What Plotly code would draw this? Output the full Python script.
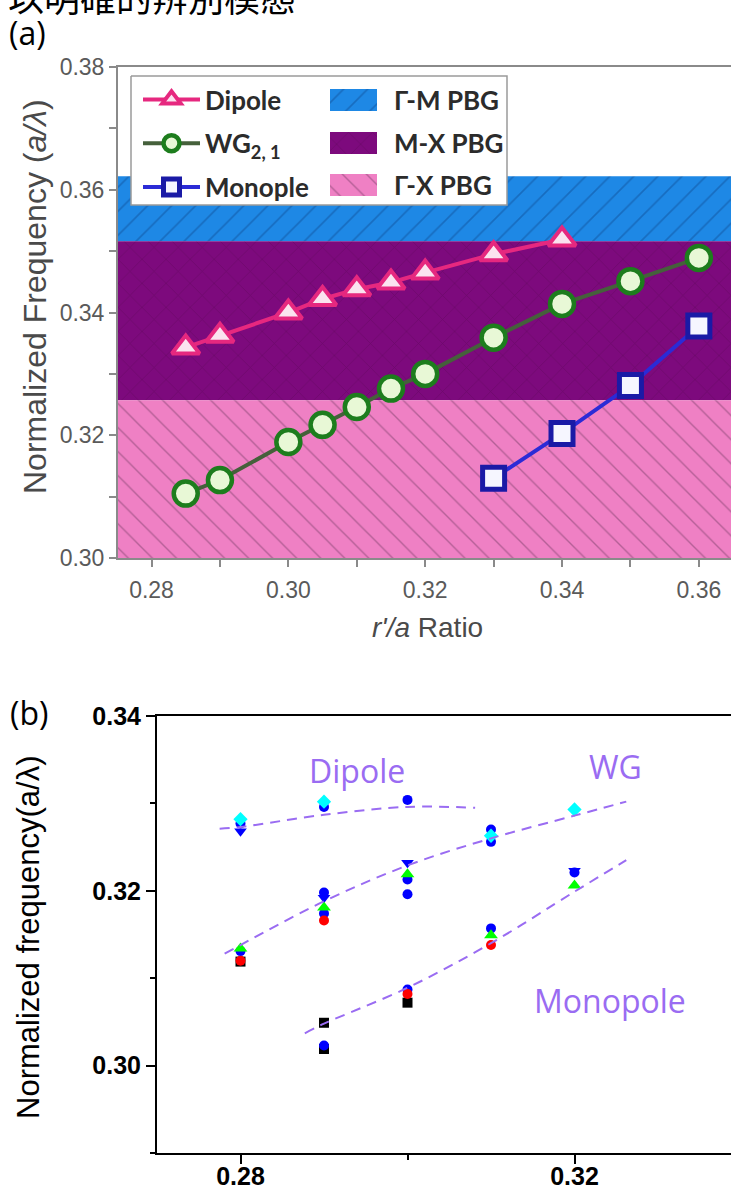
import plotly.graph_objects as go

W, H = 731, 1189

# ---------------- panel (a): simulated modes vs r'/a ----------------
ratio_dipole = [0.285, 0.29, 0.30, 0.305, 0.31, 0.315, 0.32, 0.33, 0.34]
freq_dipole = [0.3343, 0.3362, 0.3400, 0.3422, 0.3438, 0.3449, 0.3465, 0.3495, 0.3519]

ratio_wg = [0.285, 0.29, 0.30, 0.305, 0.31, 0.315, 0.32, 0.33, 0.34, 0.35, 0.36]
freq_wg = [0.3105, 0.3127, 0.3189, 0.3217, 0.3246, 0.3276, 0.3300, 0.3359, 0.3414, 0.3451, 0.3489]

ratio_mono = [0.33, 0.34, 0.35, 0.36]
freq_mono = [0.3130, 0.3203, 0.3281, 0.3378]

band_names = ["Γ-M PBG", "M-X PBG", "Γ-X PBG"]
band_low = [0.3516, 0.3257, 0.2995]
band_high = [0.3622, 0.3516, 0.3257]

a_xticks = [0.28, 0.30, 0.32, 0.34, 0.36]
a_yticks = [0.30, 0.32, 0.34, 0.36, 0.38]

# ---------------- panel (b): measured modes ----------------
b_blue_circle_x = [0.28, 0.28, 0.29, 0.29, 0.29, 0.29, 0.30, 0.30, 0.30, 0.30, 0.31, 0.31, 0.31, 0.32]
b_blue_circle_y = [0.3277, 0.3131, 0.3296, 0.3198, 0.3174, 0.3023, 0.3304, 0.3213, 0.3196, 0.3087,
                   0.3270, 0.3256, 0.3157, 0.3221]

b_blue_tridown_x = [0.28, 0.29, 0.30, 0.32]
b_blue_tridown_y = [0.3268, 0.3192, 0.3232, 0.3223]

b_green_tri_x = [0.28, 0.29, 0.30, 0.31, 0.32]
b_green_tri_y = [0.3134, 0.3181, 0.3219, 0.3149, 0.3206]

b_red_circle_x = [0.28, 0.29, 0.30, 0.31]
b_red_circle_y = [0.3120, 0.3166, 0.3082, 0.3138]

b_cyan_diamond_x = [0.28, 0.29, 0.31, 0.32]
b_cyan_diamond_y = [0.3282, 0.3302, 0.3263, 0.3293]

b_black_square_x = [0.28, 0.29, 0.29, 0.30]
b_black_square_y = [0.3119, 0.3049, 0.3019, 0.3072]

# hand-drawn guide curves
guide_dipole_x = [0.2775, 0.28, 0.29, 0.30, 0.3081]
guide_dipole_y = [0.3271, 0.3273, 0.3287, 0.3296, 0.3295]
guide_wg_x = [0.2781, 0.29, 0.30, 0.31, 0.32, 0.3262]
guide_wg_y = [0.3128, 0.3188, 0.3229, 0.3260, 0.3286, 0.3302]
guide_mono_x = [0.2877, 0.29, 0.30, 0.31, 0.32, 0.3262]
guide_mono_y = [0.3037, 0.3048, 0.3089, 0.3140, 0.3199, 0.3235]

b_xticks = [0.28, 0.32]
b_yticks = [0.30, 0.32, 0.34]

labels_b = ["Dipole", "WG", "Monopole"]
labels_b_x = [0.2939, 0.3249, 0.3243]
labels_b_y = [0.3338, 0.3342, 0.3074]


def px(x):
    return x / W


def py(y):
    return 1 - y / H


fig = go.Figure()

# photonic band gap regions
a_xlo, a_xhi = 0.2751, 0.3647
band_style = [
    dict(fillcolor="#1e88e5", fillpattern=dict(shape="/", bgcolor="#1e88e5", fgcolor="#0f4f9a",
                                               size=17, solidity=0.1)),
    dict(fillcolor="#7d0a7d", fillpattern=dict(shape="x", bgcolor="#7d0a7d", fgcolor="#5a0857",
                                               size=17, solidity=0.08)),
    dict(fillcolor="#ef80c4", fillpattern=dict(shape="\\", bgcolor="#ef80c4", fgcolor="#7a3d68",
                                               size=17, solidity=0.08)),
]
for name, lo, hi, st in zip(band_names, band_low, band_high, band_style):
    fig.add_trace(go.Scatter(
        x=[a_xlo - 0.01, a_xhi + 0.01, a_xhi + 0.01, a_xlo - 0.01, a_xlo - 0.01],
        y=[lo, lo, hi, hi, lo], mode="none", fill="toself", name=name,
        showlegend=False, xaxis="x", yaxis="y", hoverinfo="skip", **st))

fig.add_trace(go.Scatter(
    x=ratio_dipole, y=freq_dipole, mode="lines+markers", name="Dipole",
    legendgroup="d", line=dict(color="#e6287f", width=4),
    marker=dict(symbol="triangle-up", size=24, color="#fbe3ef",
                line=dict(color="#e6287f", width=4)),
    xaxis="x", yaxis="y"))
fig.add_trace(go.Scatter(
    x=ratio_wg, y=freq_wg, mode="lines+markers", name="WG<sub>2, 1</sub>",
    legendgroup="w", line=dict(color="#45603b", width=4),
    marker=dict(symbol="circle", size=24, color="#e8f8d6",
                line=dict(color="#1d7d1d", width=4.5)),
    xaxis="x", yaxis="y"))
fig.add_trace(go.Scatter(
    x=ratio_mono, y=freq_mono, mode="lines+markers", name="Monople",
    legendgroup="m", line=dict(color="#2b2bd6", width=4),
    marker=dict(symbol="square", size=22, color="#f6f6ff",
                line=dict(color="#1a1aa6", width=5)),
    xaxis="x", yaxis="y"))

# legend frame and band swatches, laid out on a full-page pixel-unit subplot
box_l, box_r, box_t, box_b = 131, 507, 76, 205
fig.add_trace(go.Scatter(
    x=[box_l, box_r, box_r, box_l, box_l], y=[box_t, box_t, box_b, box_b, box_t],
    mode="lines", fill="toself", fillcolor="white", line=dict(color="#9a9a9a", width=1.5),
    showlegend=False, hoverinfo="skip", xaxis="x3", yaxis="y3"))
sw_rows = [100, 143, 185]
sw_left, sw_right, sw_half = 330, 377, 11
for (name, st, cy) in zip(band_names, band_style, sw_rows):
    fig.add_trace(go.Scatter(
        x=[sw_left, sw_right, sw_right, sw_left, sw_left],
        y=[cy - sw_half, cy - sw_half, cy + sw_half, cy + sw_half, cy - sw_half],
        mode="none", fill="toself", showlegend=False, hoverinfo="skip",
        xaxis="x3", yaxis="y3", **st))

# panel (b) measured points
b_sets = [
    (b_black_square_x, b_black_square_y, "square", "#000000", 10),
    (b_blue_circle_x, b_blue_circle_y, "circle", "#0000ff", 10),
    (b_blue_tridown_x, b_blue_tridown_y, "triangle-down", "#0000ff", 11),
    (b_green_tri_x, b_green_tri_y, "triangle-up", "#00ff00", 12),
    (b_red_circle_x, b_red_circle_y, "circle", "#ff0000", 10),
    (b_cyan_diamond_x, b_cyan_diamond_y, "diamond", "#00ffff", 11),
]
for xs, ys, sym, col, sz in b_sets:
    fig.add_trace(go.Scatter(x=xs, y=ys, mode="markers", showlegend=False,
                             marker=dict(symbol=sym, color=col, size=sz, line=dict(width=0)),
                             xaxis="x2", yaxis="y2"))

guide_col = "#9a6cf2"
for gx, gy in [(guide_dipole_x, guide_dipole_y), (guide_wg_x, guide_wg_y), (guide_mono_x, guide_mono_y)]:
    fig.add_trace(go.Scatter(x=gx, y=gy, mode="lines", showlegend=False,
                             line=dict(color=guide_col, width=2, dash="10px,7px", shape="spline"),
                             xaxis="x2", yaxis="y2"))

grey = "#8a8a8a"
a_font = dict(family="Liberation Sans, Arial, sans-serif", size=23, color="#5a5a5a")
b_font = dict(family="Liberation Sans, Arial, sans-serif", size=25, color="#000000", weight="bold")
legend_font = dict(family="Lato, Open Sans, sans-serif", size=26, color="#2b2b2b", weight="bold")

annotations = [
    dict(text="以明確的辨別模態", x=px(6), y=py(24), xanchor="left", yanchor="bottom",
         font=dict(family="Noto Sans CJK TC", size=36, color="#000"), showarrow=False),
    dict(text="(a)", x=px(27), y=py(33), xanchor="center", yanchor="middle",
         font=dict(family="Open Sans", size=32, color="#000"), showarrow=False),
    dict(text="(b)", x=px(29), y=py(712), xanchor="center", yanchor="middle",
         font=dict(family="Open Sans", size=32, color="#000"), showarrow=False),
    dict(text="Normalized Frequency (<i>a/λ</i>)", x=px(35), y=py(297), textangle=-90,
         xanchor="center", yanchor="middle",
         font=dict(family="Liberation Sans, Arial", size=32, color="#4a4a4a"), showarrow=False),
    dict(text="<i>r'/a</i> Ratio", x=px(427), y=py(627), xanchor="center", yanchor="middle",
         font=dict(family="Liberation Sans, Arial", size=28, color="#4a4a4a"), showarrow=False),
    dict(text="Normalized frequency(a/λ)", x=px(28), y=py(937), textangle=-90,
         xanchor="center", yanchor="middle",
         font=dict(family="Liberation Sans, Arial", size=31, color="#000"), showarrow=False),
]
for name, cy in zip(band_names, sw_rows):
    annotations.append(dict(text=name, x=px(392), y=py(cy), xanchor="left", yanchor="middle",
                            font=legend_font, showarrow=False))
for t, lx, ly in zip(labels_b, labels_b_x, labels_b_y):
    annotations.append(dict(text=t, x=lx, y=ly, xref="x2", yref="y2", showarrow=False,
                            xanchor="center", yanchor="middle",
                            font=dict(family="Open Sans", size=32, color=guide_col)))
for a in annotations:
    a.setdefault("xref", "paper")
    a.setdefault("yref", "paper")

fig.update_layout(
    width=W, height=H, margin=dict(l=0, r=0, t=0, b=0, autoexpand=False),
    paper_bgcolor="white", plot_bgcolor="rgba(0,0,0,0)",
    xaxis=dict(domain=[px(118), 1], range=[a_xlo, a_xhi], anchor="y", automargin=False,
               tickmode="array", tickvals=a_xticks, ticktext=[f"{v:.2f}" for v in a_xticks],
               ticks="outside", ticklen=7, tickwidth=1.5, tickcolor=grey, ticklabelstandoff=3,
               minor=dict(dtick=0.01, tick0=0.28, ticks="outside", ticklen=7, tickcolor=grey),
               showline=True, linecolor=grey, linewidth=2, mirror=True,
               showgrid=False, zeroline=False, tickfont=a_font),
    yaxis=dict(domain=[py(558), py(67)], range=[0.30, 0.38], anchor="x", automargin=False,
               tickmode="array", tickvals=a_yticks, ticktext=[f"{v:.2f}" for v in a_yticks],
               ticks="outside", ticklen=7, tickwidth=1.5, tickcolor=grey,
               minor=dict(dtick=0.01, tick0=0.30, ticks="outside", ticklen=7, tickcolor=grey),
               showline=True, linecolor=grey, linewidth=2,
               showgrid=False, zeroline=False, tickfont=a_font),
    xaxis2=dict(domain=[px(157), 1], range=[0.27, 0.27 + (W - 157) / 8350], anchor="y2",
                automargin=False, ticklabelstandoff=-9,
                tickmode="array", tickvals=b_xticks, ticktext=[f"{v:.2f}" for v in b_xticks],
                ticks="outside", ticklen=9, tickwidth=2, tickcolor="#000",
                minor=dict(dtick=0.02, tick0=0.28, ticks="outside", ticklen=5, tickwidth=2, tickcolor="#000"),
                showline=True, linecolor="#000", linewidth=2, mirror=True,
                showgrid=False, zeroline=False, tickfont=b_font),
    yaxis2=dict(domain=[py(1153), py(716)], range=[0.29, 0.34], anchor="x2", automargin=False,
                tickmode="array", tickvals=b_yticks, ticktext=[f"{v:.2f}" for v in b_yticks],
                ticks="outside", ticklen=9, tickwidth=2, tickcolor="#000",
                minor=dict(dtick=0.01, tick0=0.29, ticks="outside", ticklen=5, tickwidth=2, tickcolor="#000"),
                showline=True, linecolor="#000", linewidth=2,
                showgrid=False, zeroline=False, tickfont=b_font),
    # full-page pixel-unit axes used only for the legend frame and swatches
    xaxis3=dict(domain=[0, 1], range=[0, W], anchor="y3", visible=False, fixedrange=True,
                automargin=False),
    yaxis3=dict(domain=[0, 1], range=[H, 0], anchor="x3", visible=False, fixedrange=True,
                automargin=False),
    legend=dict(x=px(138), y=py(76), xanchor="left", yanchor="top", bgcolor="rgba(0,0,0,0)",
                font=legend_font, tracegroupgap=7, itemwidth=57, itemsizing="trace"),
    annotations=annotations,
    showlegend=True,
)

fig.write_html("out.html")
